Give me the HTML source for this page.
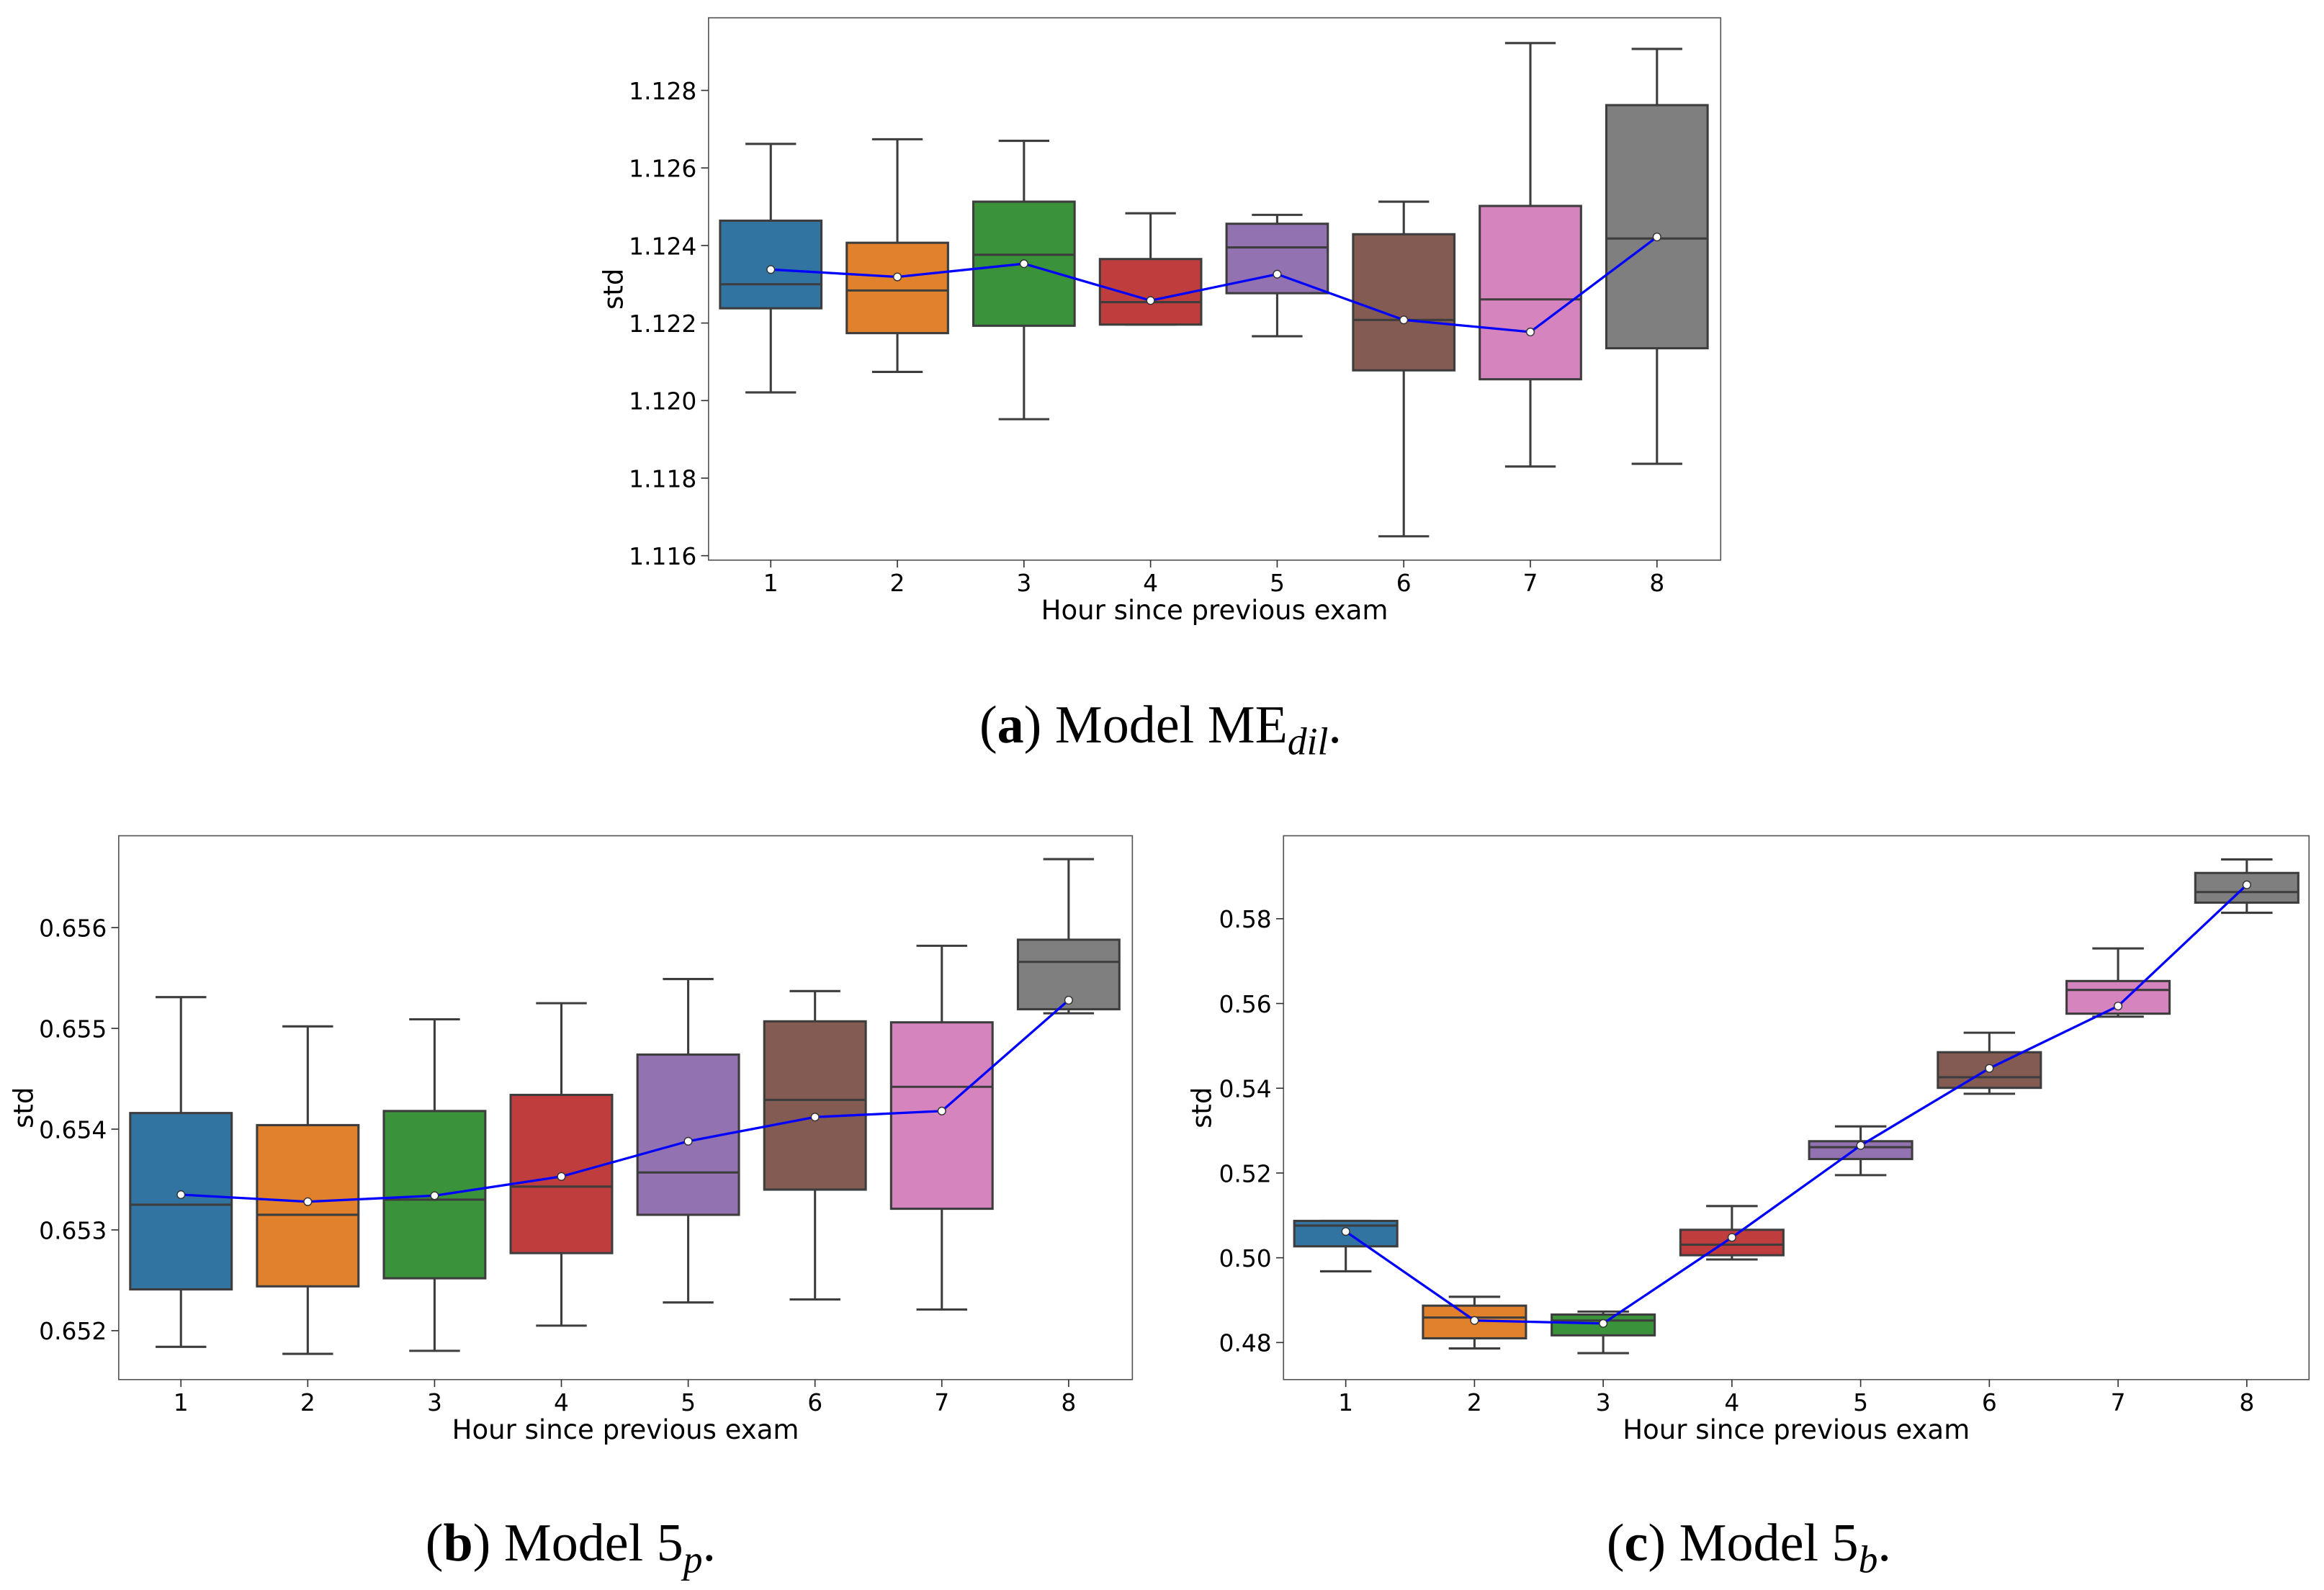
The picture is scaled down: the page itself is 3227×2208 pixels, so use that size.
<!DOCTYPE html>
<html><head><meta charset="utf-8">
<style>
html,body{margin:0;padding:0;background:#fff;}
svg{display:block;}
text{font-family:"DejaVu Sans","Liberation Sans",sans-serif;fill:#000;}
.cap{font-family:"Liberation Serif",serif;}
</style></head>
<body>
<svg id="fig" width="3227" height="2208" viewBox="0 0 1568 1073" xmlns="http://www.w3.org/2000/svg">
<text class="cap" x="783" y="501" text-anchor="middle" font-size="36">(<tspan font-weight="bold">a</tspan>) Model ME<tspan font-style="italic" font-size="26" dy="8">dil</tspan><tspan dy="-8">.</tspan></text>
<text class="cap" x="385" y="1053" text-anchor="middle" font-size="36">(<tspan font-weight="bold">b</tspan>) Model 5<tspan font-style="italic" font-size="26" dy="8">p</tspan><tspan dy="-8">.</tspan></text>
<text class="cap" x="1180" y="1053" text-anchor="middle" font-size="36">(<tspan font-weight="bold">c</tspan>) Model 5<tspan font-style="italic" font-size="26" dy="8">b</tspan><tspan dy="-8">.</tspan></text>
</svg>
<script>
const hours = [1,2,3,4,5,6,7,8];
const colors = ['#3274a1','#e1812c','#3a923a','#c03d3e','#9372b2','#845b53','#d684bd','#7f7f7f'];
// Chart a
const aWhiskHi = [1.12662,1.12674,1.12670,1.12483,1.12479,1.12513,1.12922,1.12907];
const aQ3 = [1.12464,1.12407,1.12513,1.12365,1.12456,1.12429,1.12502,1.12762];
const aMed = [1.12300,1.12284,1.12376,1.12254,1.12395,1.12208,1.12261,1.12418];
const aQ1 = [1.12238,1.12174,1.12193,1.12196,1.12277,1.12078,1.12055,1.12135];
const aWhiskLo = [1.12021,1.12074,1.11952,1.12196,1.12166,1.11650,1.11830,1.11837];
const aMean = [1.12338,1.12319,1.12353,1.12258,1.12326,1.12208,1.12177,1.12422];
const aTicks = ['1.116','1.118','1.120','1.122','1.124','1.126','1.128'];
// Chart b
const bWhiskHi = [0.65531,0.65502,0.65509,0.65525,0.65549,0.65537,0.65582,0.65668];
const bQ3 = [0.65416,0.65404,0.65418,0.65434,0.65474,0.65507,0.65506,0.65588];
const bMed = [0.65325,0.65315,0.65330,0.65343,0.65357,0.65429,0.65442,0.65566];
const bQ1 = [0.65241,0.65244,0.65252,0.65277,0.65315,0.65340,0.65321,0.65519];
const bWhiskLo = [0.65184,0.65177,0.65180,0.65205,0.65228,0.65231,0.65221,0.65515];
const bMean = [0.65335,0.65328,0.65334,0.65353,0.65388,0.65412,0.65418,0.65528];
const bTicks = ['0.652','0.653','0.654','0.655','0.656'];
// Chart c
const cWhiskHi = [0.5087,0.4908,0.4873,0.5122,0.5310,0.5531,0.5730,0.5940];
const cQ3 = [0.5087,0.4887,0.4866,0.5066,0.5275,0.5485,0.5653,0.5908];
const cMed = [0.5076,0.4859,0.4852,0.5031,0.5261,0.5426,0.5632,0.5863];
const cQ1 = [0.5027,0.4810,0.4817,0.5006,0.5233,0.5401,0.5576,0.5838];
const cWhiskLo = [0.4968,0.4786,0.4775,0.4996,0.5195,0.5387,0.5569,0.5814];
const cMean = [0.5062,0.4852,0.4845,0.5048,0.5265,0.5447,0.5594,0.5880];
const cTicks = ['0.48','0.50','0.52','0.54','0.56','0.58'];

const NS='http://www.w3.org/2000/svg';
const svg=document.getElementById('fig');
function mk(tag,attrs,parent){const e=document.createElementNS(NS,tag);for(const k in attrs)e.setAttribute(k,attrs[k]);(parent||svg).appendChild(e);return e;}

function chart(id,frame,yA,yB,xA,xB,ticks,hi,q3,med,q1,lo,mean,ylabX){
  const g=mk('g',{});
  
  
  const y=v=>yA.p+(v-yA.v)*(yB.p-yA.p)/(yB.v-yA.v);
  const x=h=>xA.p+(h-xA.v)*(xB.p-xA.p)/(xB.v-xA.v);
  const bw=(xB.p-xA.p)/7*0.8;
  const fr=mk('rect',{x:frame.x0,y:frame.y0,width:frame.x1-frame.x0,height:frame.y1-frame.y0,fill:'none',stroke:'#555','stroke-width':0.8},g);
  
  
  ticks.forEach(t=>{const py=y(parseFloat(t));
    mk('line',{x1:frame.x0-5,x2:frame.x0,y1:py,y2:py,stroke:'#333','stroke-width':0.8},g);
    const tx=mk('text',{x:frame.x0-8,y:py+6,'text-anchor':'end','font-size':16},g);tx.textContent=t;
    
    
  });
  hours.forEach((h,i)=>{const px=x(h);
    mk('line',{x1:px,x2:px,y1:frame.y1,y2:frame.y1+5,stroke:'#333','stroke-width':0.8},g);
    const tx=mk('text',{x:px,y:frame.y1+21,'text-anchor':'middle','font-size':16},g);tx.textContent=h;
    
    
    const bx=mk('g',{},g);
    
    
    mk('line',{x1:px,x2:px,y1:y(hi[i]),y2:y(q3[i]),stroke:'#3d3d3d','stroke-width':1.5},bx);
    mk('line',{x1:px,x2:px,y1:y(q1[i]),y2:y(lo[i]),stroke:'#3d3d3d','stroke-width':1.5},bx);
    mk('line',{x1:px-bw/4,x2:px+bw/4,y1:y(hi[i]),y2:y(hi[i]),stroke:'#3d3d3d','stroke-width':1.5},bx);
    mk('line',{x1:px-bw/4,x2:px+bw/4,y1:y(lo[i]),y2:y(lo[i]),stroke:'#3d3d3d','stroke-width':1.5},bx);
    mk('rect',{x:px-bw/2,y:y(q3[i]),width:bw,height:Math.max(0.5,y(q1[i])-y(q3[i])),fill:colors[i],stroke:'#3d3d3d','stroke-width':1.5},bx);
    mk('line',{x1:px-bw/2,x2:px+bw/2,y1:y(med[i]),y2:y(med[i]),stroke:'#3d3d3d','stroke-width':1.5},bx);
  });
  const pl=mk('polyline',{points:hours.map((h,i)=>x(h)+','+y(mean[i])).join(' '),fill:'none',stroke:'#0000ff','stroke-width':1.6},g);
  
  
  hours.forEach((h,i)=>{const c=mk('circle',{cx:x(h),cy:y(mean[i]),r:2.6,fill:'#fff',stroke:'#333','stroke-width':0.7},g);
    
    });
  const xl=mk('text',{x:(frame.x0+frame.x1)/2,y:frame.y1+40,'text-anchor':'middle','font-size':18},g);xl.textContent='Hour since previous exam';
  
  
  const yc=(frame.y0+frame.y1)/2;
  const yl=mk('text',{x:ylabX,y:yc,'text-anchor':'middle','font-size':18,transform:'rotate(-90 '+ylabX+' '+yc+')'},g);yl.textContent='std';
  
  
}
chart('a',{x0:478,x1:1161,y0:12,y1:378},{v:1.128,p:61},{v:1.116,p:375},{v:1,p:520},{v:8,p:1118},aTicks,aWhiskHi,aQ3,aMed,aQ1,aWhiskLo,aMean,420);
chart('b',{x0:80,x1:764,y0:564,y1:931},{v:0.656,p:626},{v:0.652,p:898},{v:1,p:122},{v:8,p:721},bTicks,bWhiskHi,bQ3,bMed,bQ1,bWhiskLo,bMean,22);
chart('c',{x0:866,x1:1558,y0:564,y1:931},{v:0.58,p:620},{v:0.48,p:906},{v:1,p:908},{v:8,p:1516},cTicks,cWhiskHi,cQ3,cMed,cQ1,cWhiskLo,cMean,817);
</script>
</body></html>
